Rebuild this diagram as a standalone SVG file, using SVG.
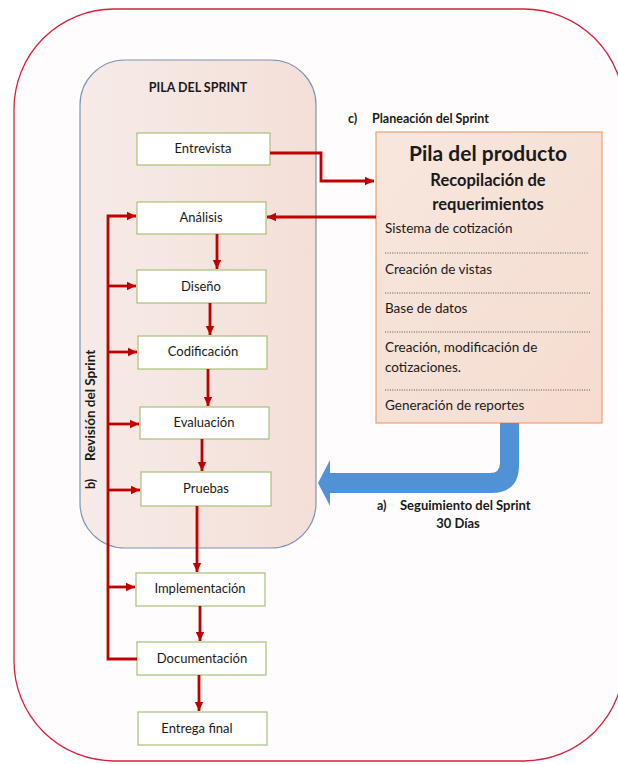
<svg xmlns="http://www.w3.org/2000/svg" width="618" height="764" viewBox="0 0 618 764">
<defs>
<style>
text{font-family:Lato,"Open Sans","Liberation Sans",sans-serif;fill:#1a1a1a}
.node rect{fill:#ffffff;stroke:#a8c07a;stroke-width:1.2}
.node text{font-size:13px;text-anchor:middle}
.lbl{font-size:12.5px;font-weight:bold}
.item{font-size:13.5px}
.dots{stroke:#444;stroke-width:0.9;stroke-dasharray:1 1.4;fill:none}
.conn path{fill:none;stroke:#c00000;stroke-width:2.8}
</style>
<marker id="ah" markerUnits="userSpaceOnUse" markerWidth="10" markerHeight="10" refX="9" refY="5" orient="auto">
<path d="M0,0.8 L9,5 L0,9.2 z" fill="#c00000"/>
</marker>
<linearGradient id="sprintFill" x1="0" y1="0" x2="1" y2="0">
<stop offset="0" stop-color="#f6ebe7"/>
<stop offset="1" stop-color="#f4dfd8"/>
</linearGradient>
<linearGradient id="pilaFill" x1="0" y1="0" x2="1" y2="1">
<stop offset="0" stop-color="#f8e6dd"/>
<stop offset="1" stop-color="#f5dccf"/>
</linearGradient>
</defs>
<rect width="618" height="764" fill="#ffffff"/>
<rect id="frame" x="14" y="9" width="610" height="752" rx="100" ry="100" fill="#fefcfc" stroke="#d8203a" stroke-width="1.3"/>

<g id="sprint">
<rect x="80" y="60" width="236" height="488" rx="45" ry="45" fill="url(#sprintFill)" stroke="#7b94b8" stroke-width="1.2"/>
<text x="198" y="92" class="lbl" text-anchor="middle" font-size="11.5">PILA DEL SPRINT</text>
</g>

<g id="revision">
<text transform="translate(95,0) rotate(-90)" x="-489" y="0" class="lbl">b)</text>
<text transform="translate(95,0) rotate(-90)" x="-461" y="0" class="lbl" style="font-size:13.5px">Revisión del Sprint</text>
</g>

<g id="pila-producto">
<text x="348" y="123" class="lbl">c)</text>
<text x="372" y="123" class="lbl">Planeación del Sprint</text>
<rect x="376" y="132" width="226" height="291" fill="url(#pilaFill)" stroke="#f0a070" stroke-width="1.2"/>
<text x="488" y="161" font-size="21" font-weight="bold" text-anchor="middle">Pila del producto</text>
<text x="488" y="186" font-size="16.5" font-weight="bold" text-anchor="middle">Recopilación de</text>
<text x="488" y="210" font-size="16.5" font-weight="bold" text-anchor="middle">requerimientos</text>
<text x="385" y="233" class="item">Sistema de cotización</text>
<line x1="385" y1="253" x2="588" y2="253" class="dots"/>
<text x="385" y="274" class="item">Creación de vistas</text>
<line x1="385" y1="293" x2="590" y2="293" class="dots"/>
<text x="385" y="313" class="item">Base de datos</text>
<line x1="385" y1="332" x2="590" y2="332" class="dots"/>
<text x="385" y="352" class="item">Creación, modificación de</text>
<text x="385" y="372" class="item">cotizaciones.</text>
<line x1="385" y1="390" x2="590" y2="390" class="dots"/>
<text x="385" y="410" class="item">Generación de reportes</text>
</g>

<g id="seguimiento">
<path d="M500,423 H519 V465 Q519,493 491,493 H330 V506 L318,483 L330,460 V473 H490 Q500,473 500,463 Z" fill="#5192d6"/>
<text x="377" y="510" class="lbl">a)</text>
<text x="400" y="510" class="lbl" style="font-size:13px">Seguimiento del Sprint</text>
<text x="458" y="528" class="lbl" text-anchor="middle" style="font-size:13px">30 Días</text>
</g>

<g id="entrevista" class="node"><rect x="137" y="133" width="133" height="32"/><text x="203" y="153">Entrevista</text></g>
<g id="analisis" class="node"><rect x="137" y="202" width="129" height="32"/><text x="201" y="222">Análisis</text></g>
<g id="diseno" class="node"><rect x="137" y="270" width="129" height="33"/><text x="201" y="291">Diseño</text></g>
<g id="codificacion" class="node"><rect x="138" y="336" width="129" height="33"/><text x="203" y="356">Codificación</text></g>
<g id="evaluacion" class="node"><rect x="140" y="407" width="129" height="32"/><text x="204" y="427">Evaluación</text></g>
<g id="pruebas" class="node"><rect x="141" y="472" width="130" height="34"/><text x="206" y="493">Pruebas</text></g>
<g id="implementacion" class="node"><rect x="136" y="573" width="129" height="33"/><text x="200" y="593">Implementación</text></g>
<g id="documentacion" class="node"><rect x="137" y="642" width="129" height="33"/><text x="202" y="663">Documentación</text></g>
<g id="entrega" class="node"><rect x="138" y="712" width="129" height="33"/><text x="197" y="733">Entrega final</text></g>

<g id="connectors" class="conn">
<path d="M270,153 H321 V181 H374" marker-end="url(#ah)"/>
<path d="M376,217 H267" marker-end="url(#ah)"/>
<path d="M217,234 V269" marker-end="url(#ah)"/>
<path d="M210,303 V335" marker-end="url(#ah)"/>
<path d="M208,369 V406" marker-end="url(#ah)"/>
<path d="M202,439 V471" marker-end="url(#ah)"/>
<path d="M197,506 V572" marker-end="url(#ah)"/>
<path d="M200,606 V641" marker-end="url(#ah)"/>
<path d="M199,675 V711" marker-end="url(#ah)"/>
<path d="M137,659 H108 V216 H136" marker-end="url(#ah)"/>
<path d="M108,286 H136" marker-end="url(#ah)"/>
<path d="M108,352 H137" marker-end="url(#ah)"/>
<path d="M108,424 H139" marker-end="url(#ah)"/>
<path d="M108,490 H140" marker-end="url(#ah)"/>
<path d="M108,587 H135" marker-end="url(#ah)"/>
</g>
</svg>
